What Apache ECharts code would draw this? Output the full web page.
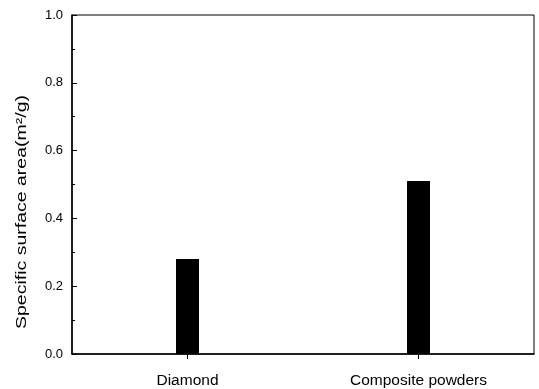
<!DOCTYPE html>
<html>
<head>
<meta charset="utf-8">
<script src="https://cdn.jsdelivr.net/npm/echarts@6/dist/echarts.min.js"></script>
<style>
  html, body { margin: 0; padding: 0; background: #fff; }
  #chart { width: 539px; height: 389px; }
</style>
</head>
<body>
<div id="chart"></div>
<script>
// Specific surface area of the two powders
const categories = ['Diamond', 'Composite powders'];
const surfaceArea = [0.28, 0.51];
const yTicks = [0.0, 0.2, 0.4, 0.6, 0.8, 1.0];

const chart = echarts.init(document.getElementById('chart'));
const font = 'Liberation Sans, Arial, sans-serif';

chart.setOption({
  animation: false,
  grid: {
    left: 72, right: 5, top: 15, bottom: 34,
    show: true, borderColor: '#000', borderWidth: 1
  },
  xAxis: {
    type: 'category',
    data: categories,
    axisLine: { lineStyle: { color: '#000', width: 1.5 } },
    axisTick: { show: true, alignWithLabel: true, length: 5, lineStyle: { color: '#000' } },
    axisLabel: { color: '#000', fontSize: 15.5, fontFamily: font, margin: 19 }
  },
  yAxis: {
    type: 'value',
    min: yTicks[0],
    max: yTicks[yTicks.length - 1],
    interval: 0.2,
    axisLine: { show: true, lineStyle: { color: '#000', width: 1.5 } },
    axisTick: { show: true, inside: true, length: 5, lineStyle: { color: '#000' } },
    minorTick: { show: true, splitNumber: 2, length: 3, lineStyle: { color: '#000' } },
    splitLine: { show: false },
    axisLabel: {
      color: '#000', fontSize: 13, fontFamily: font, margin: 9,
      formatter: v => v.toFixed(1)
    }
  },
  graphic: [{
    type: 'text',
    x: 22, y: 212,
    rotation: Math.PI / 2,
    scaleX: 1.3,
    style: {
      text: 'Specific surface area(m²/g)',
      font: '15px ' + font,
      fill: '#000',
      align: 'center',
      verticalAlign: 'middle'
    }
  }],
  series: [{
    type: 'bar',
    data: surfaceArea,
    barWidth: 23,
    itemStyle: { color: '#000' }
  }]
});
</script>
</body>
</html>
